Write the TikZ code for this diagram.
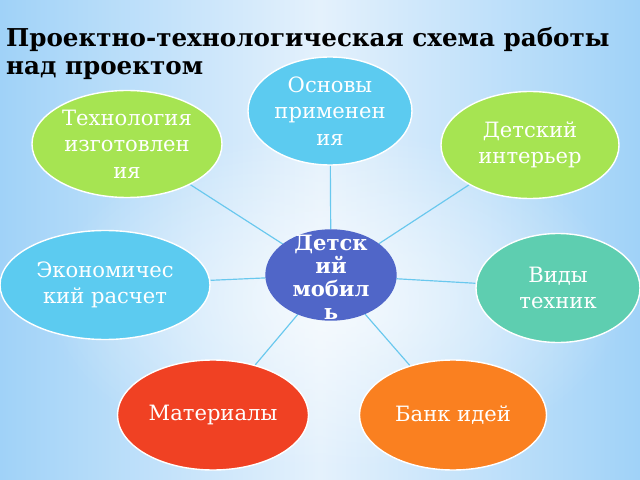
\documentclass[tikz,border=0pt]{standalone}
\usepackage{fontspec}
\setmainfont{DejaVu Serif}
\usetikzlibrary{shapes.geometric,fadings,backgrounds}
\definecolor{bgblue}{RGB}{160,210,248}
\definecolor{bgpale}{RGB}{228,241,252}
\definecolor{skyblue}{RGB}{92,203,240}
\definecolor{leafgreen}{RGB}{166,228,82}
\definecolor{seagreen}{RGB}{94,206,176}
\definecolor{brickred}{RGB}{240,65,35}
\definecolor{tangerine}{RGB}{250,128,32}
\definecolor{hubblue}{RGB}{80,102,200}
\definecolor{linkblue}{RGB}{105,200,238}
\tikzfading[name=glowfade,inner color=transparent!0,outer color=transparent!100]
\tikzset{
  topic/.style={ellipse,draw=white,line width=1.2pt,text=white,align=center,inner sep=0pt,
    font=\fontsize{18}{22.5}\selectfont},
  hubtext/.style={align=center,text=white,font=\bfseries\fontsize{18}{19.5}\selectfont},
  link/.style={linkblue,line width=1pt}
}
\begin{document}
\begin{tikzpicture}[x=0.03cm,y=-0.03cm]
\useasboundingbox(0,0)rectangle(640,480);
\node[anchor=north west,align=left,font=\bfseries\fontsize{21}{24}\selectfont](title)at(2,23)
{Проектно-технологическая схема работы\\над проектом};
\node[topic,draw=hubblue,fill=hubblue,minimum width=3.9cm,minimum height=2.7cm,
  label={[hubtext,yshift=-2pt]center:Детск\\ий\\мобил\\ь}](hub)at(331,275){};
\node[topic,fill=skyblue,minimum width=4.92cm,minimum height=3.24cm](osn)at(330,111){Основы\\применен\\ия};
\node[topic,fill=leafgreen,minimum width=5.7cm,minimum height=3.21cm](tech)at(127,144){Технология\\изготовлен\\ия};
\node[topic,fill=leafgreen,minimum width=5.34cm,minimum height=3.21cm](inter)at(530,145){Детский\\интерьер};
\node[topic,fill=skyblue,minimum width=6.3cm,minimum height=3.27cm](econ)at(105,285){Экономичес\\кий расчет};
\node[topic,fill=seagreen,minimum width=4.92cm,minimum height=3.27cm](vidy)at(558,288){Виды\\техник};
\node[topic,fill=brickred,minimum width=5.73cm,minimum height=3.3cm](mat)at(213,415){Материалы};
\node[topic,fill=tangerine,minimum width=5.61cm,minimum height=3.3cm](bank)at(453,415){Банк идей};
\begin{scope}[on background layer]
\shade[left color=bgblue,right color=bgblue,middle color=bgpale](0,0)rectangle(640,480);
\fill[white,opacity=.7,path fading=glowfade](335,300)ellipse[x radius=290,y radius=170];
\foreach \n in {osn,tech,inter,econ,vidy,mat,bank}
  \draw[link](hub)--(\n);
\end{scope}
\end{tikzpicture}
\end{document}
